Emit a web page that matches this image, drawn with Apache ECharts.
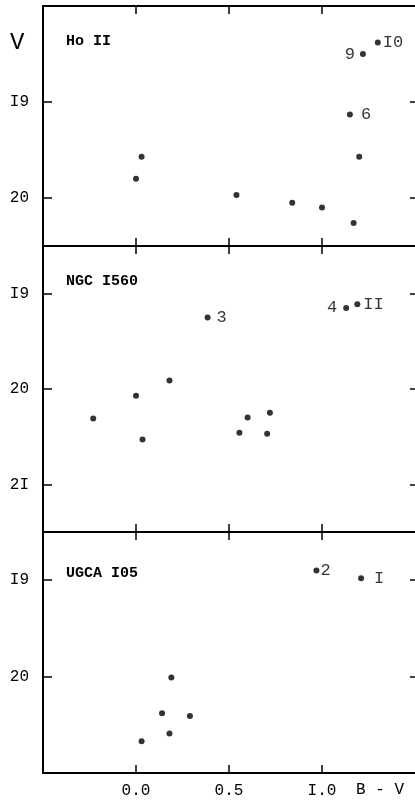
<!DOCTYPE html>
<html>
<head>
<meta charset="utf-8">
<script src="https://cdn.jsdelivr.net/npm/echarts@6/dist/echarts.min.js"></script>
<style>
html, body { margin: 0; padding: 0; background: #fff; }
#main { width: 415px; height: 804px; }
</style>
</head>
<body>
<div id="main"></div>
<script>
var chart = echarts.init(document.getElementById('main'));

// Ho II
var hoBV = [0.00, 0.03, 0.54, 0.84, 1.00, 1.17, 1.20, 1.15, 1.22, 1.30];
var hoV = [19.80, 19.57, 19.97, 20.05, 20.10, 20.26, 19.57, 19.13, 18.50, 18.38];
var hoIds = ['', '', '', '', '', '', '', '6', '9', 'I0'];

// NGC 1560
var ngcBV = [-0.23, 0.00, 0.035, 0.18, 0.385, 0.556, 0.60, 0.72, 0.705, 1.13, 1.19];
var ngcV = [20.31, 20.07, 20.53, 19.91, 19.25, 20.46, 20.30, 20.25, 20.47, 19.15, 19.11];
var ngcIds = ['', '', '', '', '3', '', '', '', '', '4', 'II'];

// UGCA 105
var ugcaBV = [0.97, 1.21, 0.19, 0.14, 0.29, 0.18, 0.03];
var ugcaV = [18.90, 18.98, 20.01, 20.38, 20.41, 20.59, 20.67];
var ugcaIds = ['2', 'I', '', '', '', '', ''];

var panelNames = ['Ho II', 'NGC I560', 'UGCA I05'];
var vRanges = [[18, 20.5], [18.5, 21.5], [18.5, 21]];
var vTicks = [[19, 20], [19, 20, 21], [19, 20]];
var bvTicks = [0, 0.5, 1];
var bvTickLabels = ['0.0', '0.5', 'I.0'];
var vTickLabels = { 19: 'I9', 20: '20', 21: '2I' };

// label side / gap for numbered stars (style only)
var idStyle = {
    '6': ['right', 8], '9': ['left', 5], 'I0': ['right', 2],
    '3': ['right', 6], '4': ['left', 6], 'II': ['right', 3],
    '2': ['right', 1], 'I': ['right', 10]
};

var font = "'Liberation Mono', 'DejaVu Sans Mono', monospace";
var grids = [
    {left: 43, right: 0, top: 6, height: 240},
    {left: 43, right: 0, top: 246, height: 286},
    {left: 43, right: 0, top: 532, height: 241}
];

var xAxes = [], yAxes = [], series = [];
var sets = [[hoBV, hoV, hoIds], [ngcBV, ngcV, ngcIds], [ugcaBV, ugcaV, ugcaIds]];

for (var i = 0; i < 3; i++) {
    ['bottom', 'top'].forEach(function (pos) {
        xAxes.push({
            gridIndex: i, type: 'value', position: pos,
            min: -0.5, max: 1.5,
            axisLine: {onZero: false, lineStyle: {color: '#000', width: 2}},
            axisTick: {inside: true, length: 8, customValues: bvTicks, lineStyle: {color: '#000', width: 1.5}},
            axisLabel: {
                show: i === 2 && pos === 'bottom',
                customValues: bvTicks, margin: 10,
                color: '#000', fontFamily: font, fontSize: 16,
                formatter: function (v) { return bvTickLabels[bvTicks.indexOf(v)] || ''; }
            },
            splitLine: {show: false}
        });
    });
    ['left', 'right'].forEach(function (pos) {
        var left = pos === 'left';
        yAxes.push({
            gridIndex: i, type: 'value', position: pos, inverse: true,
            min: vRanges[i][0], max: vRanges[i][1],
            axisLine: {show: left, onZero: false, lineStyle: {color: '#000', width: 2}},
            axisTick: {show: true, inside: true, length: left ? 9 : 5, customValues: vTicks[i], lineStyle: {color: '#000', width: 1.5}},
            axisLabel: {
                show: left, customValues: vTicks[i], margin: 14,
                color: '#000', fontFamily: font, fontSize: 16,
                formatter: function (v) { return vTickLabels[v] || ''; }
            },
            splitLine: {show: false}
        });
    });
    var s = sets[i];
    series.push({
        type: 'scatter',
        xAxisIndex: 2 * i, yAxisIndex: 2 * i,
        symbolSize: 6,
        itemStyle: {color: '#000'},
        data: s[0].map(function (x, k) {
            var id = s[2][k];
            var st = idStyle[id] || ['right', 4];
            return {
                value: [x, s[1][k]],
                label: {
                    show: id !== '', formatter: id, position: st[0], distance: st[1],
                    color: '#000', fontFamily: font, fontSize: 17
                }
            };
        })
    });
}

var nameTops = [34, 274, 566];
var graphics = panelNames.map(function (n, i) {
    return {
        type: 'text', left: 66, top: nameTops[i],
        style: {text: n, fill: '#000', font: 'bold 15px ' + font}
    };
});
graphics.push({type: 'text', left: 10, top: 31, style: {text: 'V', fill: '#000', font: '24px ' + font}});
graphics.push({type: 'text', left: 356, top: 782, style: {text: 'B - V', fill: '#000', font: '16px ' + font}});

option = {
    animation: false,
    backgroundColor: '#fff',
    grid: grids,
    xAxis: xAxes,
    yAxis: yAxes,
    series: series,
    graphic: graphics
};

chart.setOption(option);
</script>
</body>
</html>
